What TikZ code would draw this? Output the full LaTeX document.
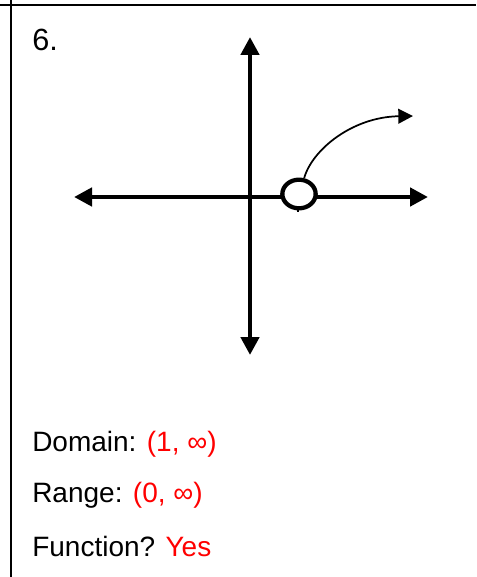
\documentclass[tikz,border=0pt]{standalone}
\usepackage{fontspec}
\setmainfont{Liberation Sans}
\usepackage{tikz}
\usetikzlibrary{arrows.meta,shapes.geometric}

\tikzset{
  axis/.style={line width=3.4pt, {Triangle[length=13.5pt,width=13.5pt]}-{Triangle[length=13.5pt,width=13.5pt]}},
  hole/.style={draw, ellipse, fill=white, line width=3.2pt, minimum width=25pt, minimum height=21.5pt, inner sep=0pt},
  answer/.style={anchor=base west, inner sep=0pt, font=\fontsize{21}{25}\selectfont}
}

\begin{document}
\begin{tikzpicture}[x=0.75pt,y=-0.75pt]
  \useasboundingbox (0,0) rectangle (476,577);
  % cadre de la case
  \draw[line width=1.6pt] (0,5) -- (476,5);
  \draw[line width=1.6pt] (11,0) -- (11,577);
  \node[answer, font=\fontsize{23}{27}\selectfont] (num) at (32,51) {6.};
  % axes
  \coordinate (yt) at (250,37);
  \coordinate (yb) at (250,355);
  \coordinate (xl) at (74,197);
  \coordinate (xr) at (428,197);
  \draw[axis] (yb) -- (yt);
  \draw[axis] (xl) -- (xr);
  \draw[line width=0.8pt] (298,197) -- (298,212);
  % courbe et trou
  \node[hole] (hole) at (299,194) {};
  \coordinate (tip) at (413,116);
  \draw[line width=1.3pt, -{Triangle[length=11pt,width=11pt]}] (hole.72) .. controls (312,150) and (352,117) .. (tip);
  % reponses
  \node[answer] (dom) at (32,451) {Domain: \textcolor{red}{(1, ∞)}};
  \node[answer] (ran) at (32,502) {Range: \textcolor{red}{(0, ∞)}};
  \node[answer] (fun) at (32,556) {Function? \textcolor{red}{Yes}};
\end{tikzpicture}
\end{document}
